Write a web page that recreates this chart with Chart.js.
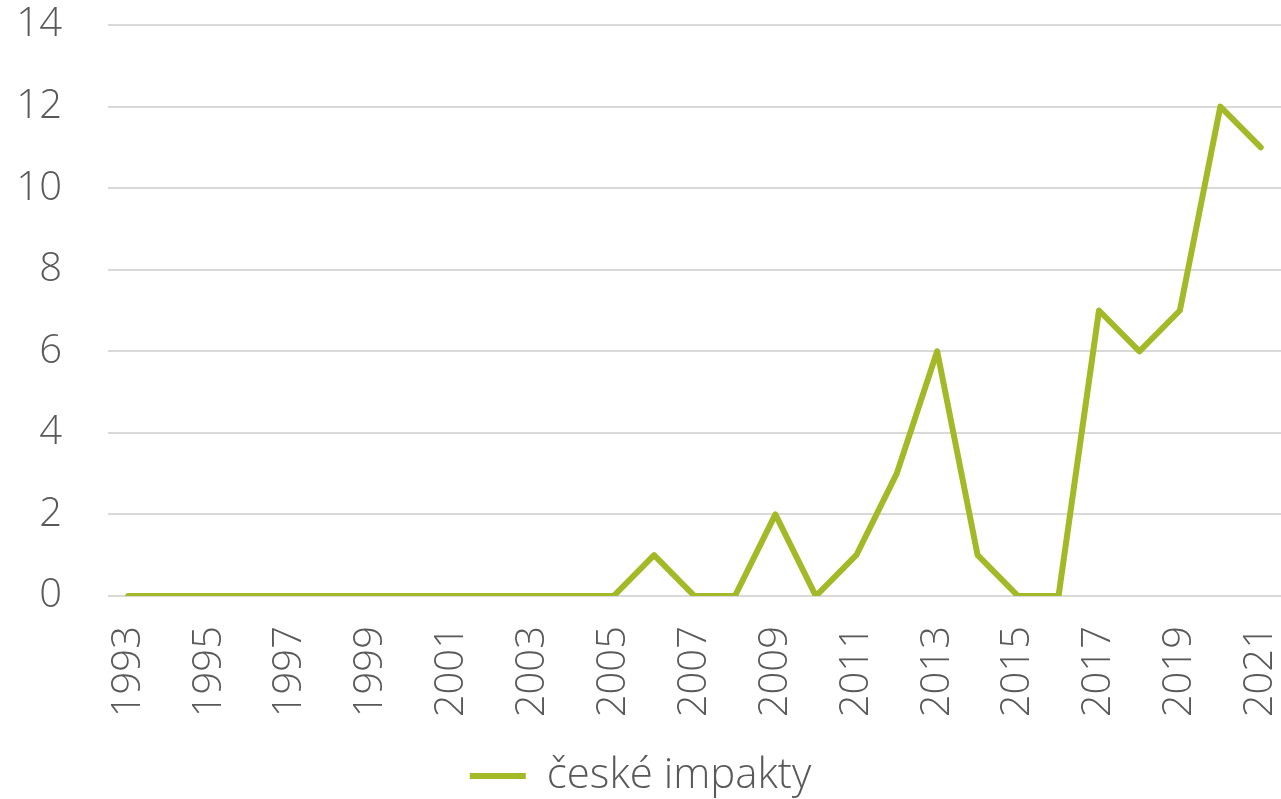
<!DOCTYPE html>
<html>
<head>
<meta charset="utf-8">
<script src="https://cdn.jsdelivr.net/npm/chart.js@4/dist/chart.umd.min.js"></script>
<style>
  html, body { margin: 0; padding: 0; background: #fff; }
  #wrap { width: 1281px; height: 799px; }
</style>
</head>
<body>
<div id="wrap"><canvas id="myChart" width="1281" height="799"></canvas></div>
<script>
'use strict';

// years on the x axis
var years = [];
for (var y = 1993; y <= 2021; y++) {
    years.push(String(y));
}
// values
var impakty = [0, 0, 0, 0, 0, 0, 0, 0, 0, 0, 0, 0, 0, 1, 0, 0, 2, 0, 1, 3, 6, 1, 0, 0, 7, 6, 7, 12, 11];
var yTicks = [0, 2, 4, 6, 8, 10, 12, 14];

var textColor = '#595959';
var lineColor = '#a4b928';
var fontName = '"Open Sans", sans-serif';

var ctx = document.getElementById('myChart').getContext('2d');
var chart = new Chart(ctx, {
    type: 'line',
    data: {
        labels: years,
        datasets: [{
            label: 'české impakty',
            data: impakty,
            borderColor: lineColor,
            backgroundColor: lineColor,
            borderWidth: 6,
            pointRadius: 0,
            pointStyle: 'line',
            borderCapStyle: 'round',
            borderJoinStyle: 'round',
            tension: 0
        }]
    },
    options: {
        responsive: false,
        animation: false,
        layout: { padding: { top: 25, right: 0, left: 0, bottom: -8 } },
        plugins: {
            legend: {
                position: 'bottom',
                labels: {
                    color: textColor,
                    font: { family: fontName, size: 42, weight: 300 },
                    usePointStyle: true,
                    pointStyleWidth: 56,
                    boxHeight: 6,
                    padding: 2
                }
            },
            tooltip: { enabled: false }
        },
        scales: {
            x: {
                offset: true,
                grid: { display: false },
                border: { display: false },
                ticks: {
                    color: textColor,
                    font: { family: fontName, size: 40, weight: 300 },
                    autoSkip: false,
                    maxRotation: 90,
                    minRotation: 90,
                    padding: 22,
                    callback: function (value, index) {
                        return index % 2 === 0 ? years[index] : '';
                    }
                },
                afterFit: function (scale) {
                    scale.height = 157;
                    scale.paddingLeft = 0;
                    scale.paddingRight = 0;
                }
            },
            y: {
                min: 0,
                max: 14,
                afterBuildTicks: function (scale) {
                    scale.ticks = yTicks.map(function (v) { return { value: v }; });
                },
                grid: { color: '#d9d9d9', lineWidth: 2, drawTicks: false },
                border: { display: false },
                ticks: {
                    color: textColor,
                    font: { family: fontName, size: 40, weight: 300 },
                    padding: 46
                },
                afterFit: function (scale) {
                    scale.width = 108;
                    scale.paddingTop = 0;
                    scale.paddingBottom = 0;
                }
            }
        }
    }
});
</script>
</body>
</html>
